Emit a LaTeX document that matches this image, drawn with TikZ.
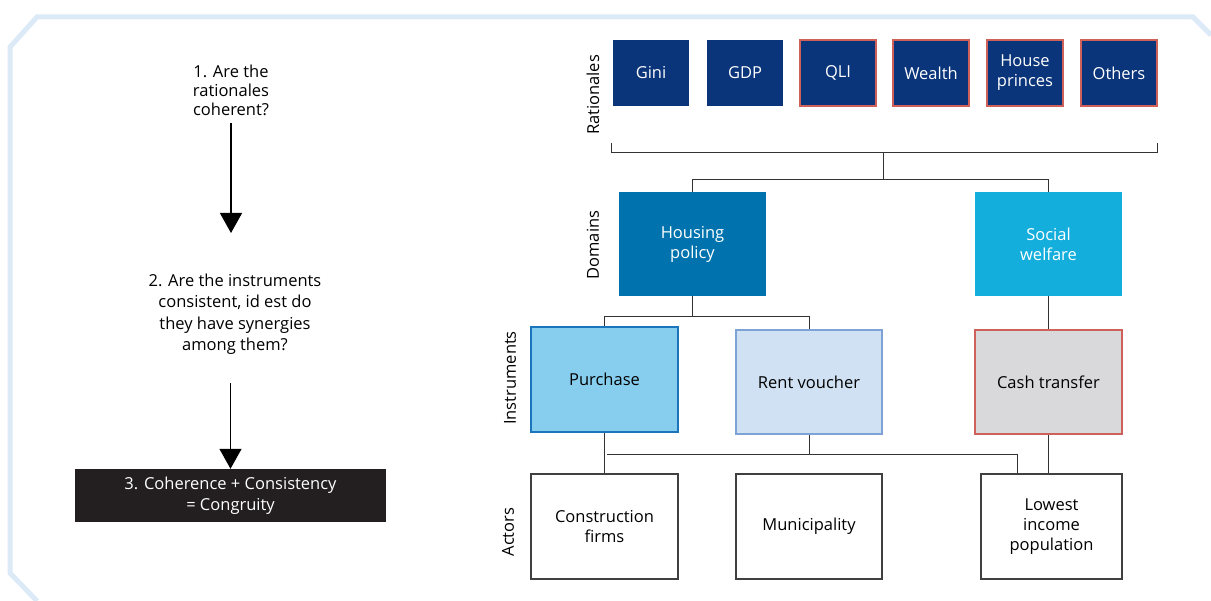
\documentclass[tikz,border=0pt]{standalone}
\usepackage{fontspec}
\setmainfont{Open Sans}
\usetikzlibrary{arrows.meta}
\definecolor{navy}{HTML}{0B357A}
\definecolor{redline}{HTML}{D0605A}
\definecolor{housing}{HTML}{0073AE}
\definecolor{social}{HTML}{14AEDC}
\definecolor{purchase}{HTML}{87CEEE}
\definecolor{purchaseline}{HTML}{1A75BC}
\definecolor{rent}{HTML}{CFE1F3}
\definecolor{rentline}{HTML}{7DA3D6}
\definecolor{cash}{HTML}{D9D9DB}
\definecolor{framecol}{HTML}{DCE9F6}
\definecolor{blackbox}{HTML}{231F20}
\tikzset{
  box/.style={minimum width=147pt,minimum height=104pt,align=center,inner sep=0pt,font=\fontsize{16.5}{20}\selectfont},
  rat/.style={box,minimum width=76pt,minimum height=66pt,fill=navy,text=white},
  ratred/.style={rat,draw=redline,line width=1.5pt},
  actor/.style={box,draw=black!75,line width=1.2pt,fill=white},
  axis/.style={rotate=90,font=\fontsize{16.5}{18}\selectfont},
  link/.style={draw=black!80,line width=1pt},
  arr/.style={line width=1.2pt,-{Triangle[width=22pt,length=20pt]}}
}
\begin{document}
\begin{tikzpicture}[x=1pt,y=-1pt]
\useasboundingbox (0,0) rectangle (1211,601);
% frame
\draw[framecol,line width=5pt] (37,601) -- (10,573) -- (10,47) -- (37,17) -- (1193,17) -- (1211,35);
% left column
\node[align=center,font=\fontsize{16.5}{19}\selectfont] (q1) at (231,90) {1. Are the\\rationales\\coherent?};
\node[align=center,font=\fontsize{16.5}{21.5}\selectfont] (q2) at (235,314) {2. Are the instruments\\consistent, id est do\\they have synergies\\among them?};
\node[fill=blackbox,text=white,minimum width=311pt,minimum height=53pt,align=center,inner sep=0pt,
  font=\fontsize{16.5}{21}\selectfont] (cong) at (230.5,495.5) {3. Coherence + Consistency\\= Congruity};
\coordinate (t1) at (231,233);
\draw[arr] (q1.south |- 0,123) -- (t1);
\draw[arr] (cong.north |- 0,383) -- (cong.north);
% axis labels
\node[axis] at (593,95) {Rationales};
\node[axis] at (593,245) {Domains};
\node[axis] at (510,378) {Instruments};
\node[axis] at (508,532) {Actors};
% rationales
\node[rat] (gini) at (651,73) {Gini};
\node[rat] (gdp) at (745,73) {GDP};
\node[ratred] (qli) at (838,73) {QLI};
\node[ratred] (wealth) at (931,73) {Wealth};
\node[ratred] (house) at (1025,73) {House\\princes};
\node[ratred] (others) at (1119,73) {Others};
% domains
\node[box,fill=housing,text=white] (housing) at (692.5,244) {Housing\\policy};
\node[box,fill=social,text=white] (social) at (1048.5,244) {Social\\welfare};
% instruments
\node[box,fill=purchase,draw=purchaseline,line width=1.5pt,minimum height=105pt] (purch) at (604.5,379.5) {Purchase};
\node[box,fill=rent,draw=rentline,line width=1.5pt,minimum width=146pt] (rentv) at (809,382) {Rent voucher};
\node[box,fill=cash,draw=redline,line width=1.5pt] (cash) at (1048.5,382) {Cash transfer};
% actors
\node[actor,minimum height=105pt] (constr) at (604.5,526.5) {Construction\\firms};
\node[actor,minimum width=146pt,minimum height=105pt] (muni) at (809,526.5) {Municipality};
\node[actor,minimum width=141pt,minimum height=105pt] (lowest) at (1051.5,526.5) {Lowest\\income\\population};
% connectors
\coordinate (bl) at (611,143);
\coordinate (br) at (1157,143);
\coordinate (brk) at (883,153);
\draw[link] (bl) -- ++(0,10) -| (br);
\draw[link] (brk) -- (brk |- 0,180);
\draw[link] (housing.north) -- ++(0,-12) -| (social.north);
\draw[link] (housing.south) -- ++(0,20) coordinate (hj);
\draw[link] (purch.north) |- (hj) -| (rentv.north);
\draw[link] (social) -- (cash);
\draw[link] (purch) -- (constr);
\coordinate (aj) at (607,455);
\draw[link] (aj) -| ([xshift=-34.5pt]lowest.north);
\draw[link] (rentv.south) -- (rentv.south |- aj);
\draw[link] (cash.south) -- (cash.south |- lowest.north);
\end{tikzpicture}
\end{document}
